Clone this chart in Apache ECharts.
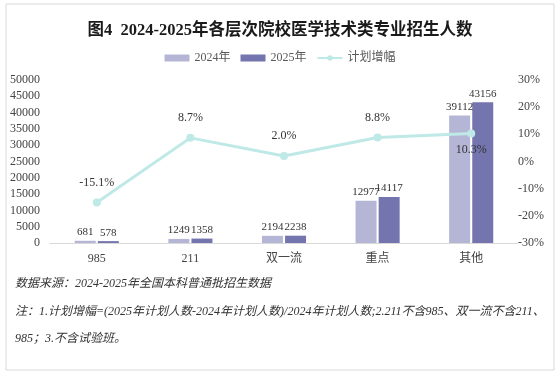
<!DOCTYPE html>
<html>
<head>
<meta charset="utf-8">
<script src="https://cdn.jsdelivr.net/npm/echarts@6/dist/echarts.min.js"></script>
<style>
html,body{margin:0;padding:0;background:#fff;}
#main{width:560px;height:377px;}
</style>
</head>
<body>
<div id="main"></div>
<script>
"use strict";
// 分类与数据
let categories = ['985', '211', '双一流', '重点', '其他'];
let data2024 = [681, 1249, 2194, 12977, 39112];
let data2025 = [578, 1358, 2238, 14117, 43156];
let growthRate = [-15.1, 8.7, 2.0, 8.8, 10.3];
let leftTicks = [0, 50000, 5000];
let rightTicks = [-30, 30, 10];
let notes = [
    '数据来源：2024-2025年全国本科普通批招生数据',
    '注：1.计划增幅=(2025年计划人数-2024年计划人数)/2024年计划人数;2.211不含985、双一流不含211、',
    '985；3.不含试验班。'
];

let serif = '"Liberation Serif","Noto Sans CJK SC",serif';
let cjk = '"Liberation Serif","Noto Sans CJK SC",sans-serif';
let myChart = echarts.init(document.getElementById('main'));

function drawEchart() {
    let option = {
        backgroundColor: '#fff',
        animation: false,
        title: {
            text: '图4  2024-2025年各层次院校医学技术类专业招生人数',
            left: 'center',
            top: 17,
            textStyle: { fontFamily: serif, fontSize: 16.5, fontWeight: 'bold', color: '#1a1a1a' }
        },
        legend: {
            top: 47,
            left: 'center',
            itemWidth: 25,
            itemHeight: 7,
            itemGap: 10,
            textStyle: { fontFamily: cjk, fontSize: 12, color: '#595959' },
            data: [
                { name: '2024年', icon: 'rect' },
                { name: '2025年', icon: 'rect' },
                { name: '计划增幅' }
            ]
        },
        grid: { left: 50, right: 42, top: 80, bottom: 134, containLabel: false },
        xAxis: {
            type: 'category',
            data: categories,
            axisLine: { lineStyle: { color: '#d9d9d9' } },
            axisTick: { show: false },
            axisLabel: { fontFamily: cjk, fontSize: 12, color: '#444', margin: 10 }
        },
        yAxis: [{
            type: 'value',
            min: leftTicks[0],
            max: leftTicks[1],
            interval: leftTicks[2],
            splitLine: { show: false },
            axisLine: { show: false },
            axisLabel: { fontFamily: serif, fontSize: 12, color: '#444', margin: 10, formatter: function (v) { return String(v); } }
        }, {
            type: 'value',
            min: rightTicks[0],
            max: rightTicks[1],
            interval: rightTicks[2],
            splitLine: { show: false },
            axisLine: { show: false },
            axisLabel: { fontFamily: serif, fontSize: 12, color: '#444', margin: 0, formatter: '{value}%' }
        }],
        series: [{
            name: '2024年',
            type: 'bar',
            data: data2024,
            barWidth: 21,
            barGap: '10%',
            itemStyle: { color: '#b5b6d6' },
            label: { show: true, position: 'top', distance: 3, fontFamily: serif, fontSize: 11, color: '#333' }
        }, {
            name: '2025年',
            type: 'bar',
            data: data2025,
            barWidth: 21,
            itemStyle: { color: '#7475ae' },
            label: { show: true, position: 'top', distance: 3, fontFamily: serif, fontSize: 11, color: '#333' }
        }, {
            name: '计划增幅',
            type: 'line',
            yAxisIndex: 1,
            data: growthRate.map(function (v, i) {
                return {
                    value: v,
                    label: i === 4 ? { position: 'bottom', distance: 6 } : undefined
                };
            }),
            symbol: 'circle',
            symbolSize: 8,
            lineStyle: { color: '#bfe9e7', width: 3 },
            itemStyle: { color: '#bfe9e7' },
            label: {
                show: true,
                position: 'top',
                distance: 10,
                fontFamily: serif,
                fontSize: 12,
                color: '#333',
                formatter: function (p) { return p.value.toFixed(1) + '%'; }
            }
        }],
        graphic: [{
            type: 'rect',
            shape: { x: 6, y: 4, width: 548, height: 366 },
            style: { fill: 'none', stroke: '#d9d9d9', lineWidth: 1 },
            silent: true
        }].concat(notes.map(function (t, i) {
            return {
                type: 'text',
                left: 15,
                top: 278 + i * 27.5,
                style: { text: t, fontFamily: cjk, fontSize: 12, fontStyle: 'italic', fill: '#333' }
            };
        }))
    };
    myChart.setOption(option);
}
drawEchart();
</script>
</body>
</html>
